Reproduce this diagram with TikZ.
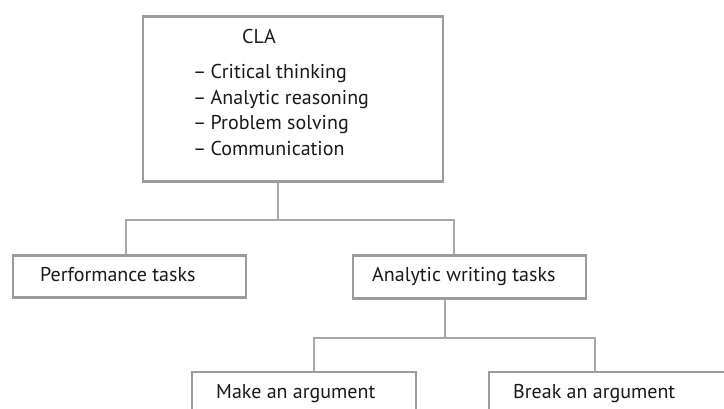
\documentclass[tikz,border=0pt]{standalone}
\usepackage{fontspec}
\setmainfont{PT Sans}
\begin{document}
\begin{tikzpicture}[x=1pt,y=-1pt,
  box/.style={draw=boxgray,line width=2.7pt,fill=white,rectangle,inner sep=0pt,anchor=north west},
  lbl/.style={anchor=base west,inner sep=0pt,text=black!90,font=\fontsize{20}{24}\selectfont},
  link/.style={draw=linkgray,line width=1.1pt}]
\definecolor{boxgray}{HTML}{9C9C9C}
\definecolor{linkgray}{HTML}{A8A8A8}
\useasboundingbox (0,0) rectangle (724,409);
\clip (0,0) rectangle (724,409);

% boxes (outer edges measured, border centred on the line)
\node[box,minimum width=300pt,minimum height=165pt] (cla)  at (141.5,15.5) {};
\node[box,minimum width=233pt,minimum height=42pt]  (perf) at (11.5,254.5) {};
\node[box,minimum width=233pt,minimum height=43pt]  (anw)  at (351.5,254.5) {};
\node[box,minimum width=224pt,minimum height=60pt]  (make) at (190.5,370.5) {};
\node[box,minimum width=250pt,minimum height=60pt]  (brk)  at (487.5,370.5) {};

% texts
\node[lbl] (t0) at (242,44)    {CLA};
\node[lbl] (t1) at (193,79)    {–\hspace{-1pt} Critical thinking};
\node[lbl] (t2) at (193,104.5) {–\hspace{-1pt} Analytic reasoning};
\node[lbl] (t3) at (193,130)   {–\hspace{-1pt} Problem solving};
\node[lbl] (t4) at (193,155.5) {–\hspace{-1pt} Communication};
\node[lbl] (tp) at (40,282)  {Performance tasks};
\node[lbl] (ta) at (372,282) {Analytic writing tasks};
\node[lbl] (tm) at (216,398) {Make an argument};
\node[lbl] (tb) at (513,398) {Break an argument};

% first level of the tree
\coordinate (j1) at (278,220);
\coordinate (b1l) at (126,220);
\coordinate (b1r) at (454,220);
\draw[link] (cla.south -| j1) -- (j1);
\draw[link] (perf.north -| b1l) -- (b1l) -- (b1r) -- (anw.north -| b1r);

% second level of the tree
\coordinate (j2) at (445,338);
\coordinate (b2l) at (314,338);
\coordinate (b2r) at (595,338);
\draw[link] (anw.south -| j2) -- (j2);
\draw[link] (make.north -| b2l) -- (b2l) -- (b2r) -- (brk.north -| b2r);
\end{tikzpicture}
\end{document}
